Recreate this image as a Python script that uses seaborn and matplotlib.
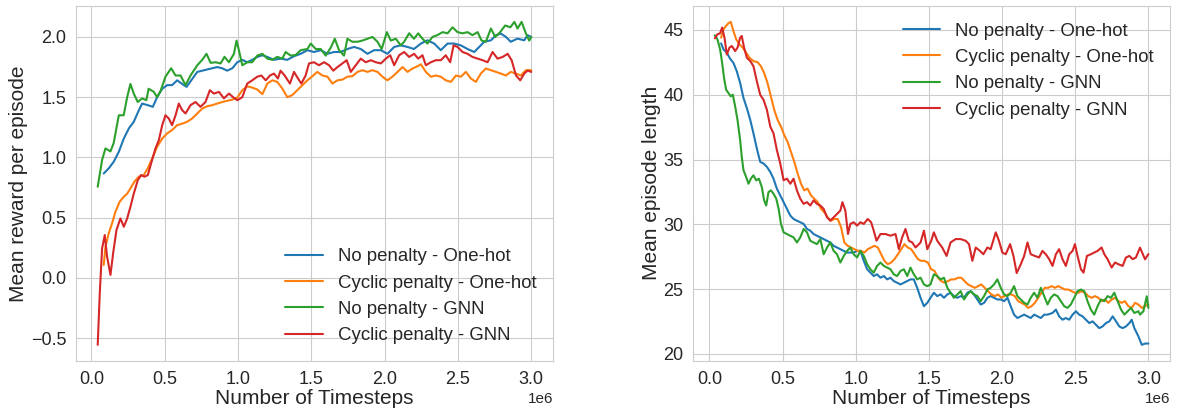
import pandas as pd
import matplotlib
matplotlib.use('Agg')
import matplotlib.pyplot as plt
import seaborn as sns

# values, timesteps in units of 1e6
LABELS = ['No penalty - One-hot', 'Cyclic penalty - One-hot',
          'No penalty - GNN', 'Cyclic penalty - GNN']

# ---- left panel: mean reward per episode ----
rew_np_oh_t = [0.084, 0.118, 0.152, 0.187, 0.221, 0.255, 0.289, 0.323, 0.346, 0.384, 0.419, 0.448,
               0.483, 0.517, 0.55, 0.585, 0.619, 0.649, 0.687, 0.722, 0.756, 0.79, 0.824, 0.858,
               0.892, 0.926, 0.961, 0.995, 1.029, 1.063, 1.097, 1.131, 1.166, 1.2, 1.245, 1.29,
               1.336, 1.382, 1.427, 1.473, 1.518, 1.564, 1.61, 1.655, 1.7, 1.746, 1.792, 1.837,
               1.883, 1.928, 1.974, 2.019, 2.065, 2.11, 2.156, 2.2, 2.247, 2.292, 2.338, 2.383,
               2.429, 2.474, 2.52, 2.565, 2.611, 2.645, 2.679, 2.725, 2.759, 2.793, 2.827, 2.86,
               2.906, 2.952, 2.975, 3.0]
rew_np_oh = [0.867, 0.909, 0.964, 1.047, 1.157, 1.24, 1.296, 1.39, 1.447, 1.434, 1.42, 1.5,
             1.57, 1.6, 1.6, 1.64, 1.61, 1.586, 1.65, 1.71, 1.72, 1.73, 1.74, 1.75,
             1.74, 1.72, 1.74, 1.79, 1.81, 1.79, 1.81, 1.834, 1.848, 1.834, 1.81, 1.82,
             1.81, 1.84, 1.86, 1.89, 1.875, 1.89, 1.86, 1.875, 1.875, 1.9, 1.917, 1.9,
             1.86, 1.89, 1.89, 1.86, 1.917, 1.93, 1.917, 1.9, 1.945, 1.972, 1.945, 1.89,
             1.945, 1.945, 1.93, 1.9, 1.875, 1.917, 1.96, 1.972, 2.014, 2.028, 2.0, 1.96,
             1.986, 1.972, 2.014, 2.0]

rew_cp_oh_t = [0.084, 0.096, 0.118, 0.141, 0.164, 0.193, 0.221, 0.244, 0.266, 0.294, 0.323, 0.357,
               0.385, 0.414, 0.448, 0.483, 0.517, 0.55, 0.585, 0.619, 0.653, 0.687, 0.722, 0.756,
               0.79, 0.824, 0.858, 0.892, 0.926, 0.961, 0.995, 1.029, 1.063, 1.097, 1.131, 1.166,
               1.2, 1.234, 1.268, 1.302, 1.336, 1.37, 1.404, 1.439, 1.473, 1.507, 1.541, 1.575,
               1.61, 1.644, 1.678, 1.712, 1.746, 1.78, 1.815, 1.849, 1.883, 1.917, 1.951, 1.985,
               2.019, 2.053, 2.088, 2.122, 2.156, 2.19, 2.224, 2.247, 2.281, 2.315, 2.349, 2.383,
               2.417, 2.452, 2.486, 2.52, 2.554, 2.588, 2.622, 2.656, 2.69, 2.725, 2.759, 2.793,
               2.827, 2.86, 2.895, 2.929, 2.963, 3.0]
rew_cp_oh = [0.108, 0.26, 0.37, 0.453, 0.55, 0.633, 0.674, 0.7, 0.743, 0.8, 0.84, 0.854,
             0.91, 0.99, 1.088, 1.157, 1.2, 1.227, 1.268, 1.28, 1.296, 1.323, 1.365, 1.406,
             1.425, 1.434, 1.447, 1.46, 1.47, 1.48, 1.497, 1.558, 1.59, 1.58, 1.564, 1.525,
             1.613, 1.64, 1.627, 1.572, 1.5, 1.517, 1.558, 1.6, 1.64, 1.674, 1.71, 1.68,
             1.67, 1.613, 1.64, 1.646, 1.67, 1.674, 1.71, 1.724, 1.71, 1.724, 1.71, 1.67,
             1.64, 1.67, 1.71, 1.75, 1.71, 1.738, 1.757, 1.773, 1.71, 1.67, 1.68, 1.67,
             1.64, 1.627, 1.68, 1.67, 1.71, 1.655, 1.627, 1.696, 1.738, 1.724, 1.71, 1.696,
             1.68, 1.71, 1.696, 1.68, 1.724, 1.724]

rew_np_gnn_t = [0.043, 0.073, 0.096, 0.13, 0.152, 0.187, 0.22, 0.244, 0.266, 0.289, 0.316, 0.346,
                0.375, 0.39, 0.425, 0.448, 0.471, 0.505, 0.544, 0.574, 0.608, 0.642, 0.676, 0.722,
                0.756, 0.785, 0.813, 0.847, 0.881, 0.908, 0.938, 0.972, 0.99, 1.006, 1.029, 1.063,
                1.097, 1.131, 1.166, 1.2, 1.234, 1.268, 1.302, 1.325, 1.359, 1.393, 1.427, 1.473,
                1.496, 1.53, 1.564, 1.598, 1.632, 1.66, 1.689, 1.723, 1.746, 1.78, 1.815, 1.848,
                1.883, 1.917, 1.951, 1.98, 2.015, 2.042, 2.076, 2.11, 2.133, 2.167, 2.2, 2.229,
                2.258, 2.292, 2.326, 2.36, 2.395, 2.429, 2.463, 2.497, 2.531, 2.565, 2.599, 2.634,
                2.661, 2.69, 2.725, 2.754, 2.788, 2.822, 2.857, 2.885, 2.906, 2.934, 2.963, 2.986,
                3.0]
rew_np_gnn = [0.757, 0.98, 1.075, 1.05, 1.12, 1.35, 1.35, 1.5, 1.61, 1.53, 1.46, 1.49,
              1.475, 1.57, 1.545, 1.5, 1.55, 1.67, 1.74, 1.68, 1.68, 1.6, 1.68, 1.765,
              1.81, 1.86, 1.785, 1.79, 1.78, 1.835, 1.79, 1.86, 1.97, 1.89, 1.765, 1.79,
              1.79, 1.845, 1.86, 1.82, 1.81, 1.835, 1.82, 1.875, 1.845, 1.85, 1.89, 1.9,
              1.945, 1.9, 1.9, 1.845, 1.91, 1.985, 1.89, 1.845, 1.985, 1.96, 1.96, 1.97,
              1.985, 2.0, 1.96, 1.9, 2.04, 1.97, 1.985, 1.93, 1.96, 2.03, 1.985, 2.03,
              1.985, 1.945, 2.0, 2.015, 2.04, 2.03, 2.08, 2.04, 2.03, 2.04, 2.015, 2.04,
              1.97, 1.96, 2.07, 2.0, 2.04, 2.095, 2.08, 2.125, 2.07, 2.125, 2.03, 1.97,
              2.0]

rew_cp_gnn_t = [0.043, 0.057, 0.073, 0.091, 0.107, 0.13, 0.148, 0.171, 0.198, 0.221, 0.244, 0.266,
                0.289, 0.316, 0.339, 0.362, 0.385, 0.407, 0.437, 0.46, 0.483, 0.505, 0.528, 0.55,
                0.574, 0.596, 0.619, 0.642, 0.676, 0.71, 0.744, 0.778, 0.808, 0.835, 0.87, 0.904,
                0.938, 0.967, 0.995, 1.029, 1.063, 1.097, 1.131, 1.159, 1.189, 1.218, 1.245, 1.272,
                1.29, 1.318, 1.354, 1.382, 1.409, 1.432, 1.461, 1.484, 1.518, 1.552, 1.587, 1.621,
                1.65, 1.678, 1.712, 1.741, 1.769, 1.803, 1.837, 1.871, 1.906, 1.94, 1.974, 2.008,
                2.038, 2.065, 2.099, 2.133, 2.167, 2.201, 2.229, 2.258, 2.281, 2.315, 2.349, 2.383,
                2.417, 2.447, 2.47, 2.497, 2.531, 2.565, 2.599, 2.634, 2.668, 2.702, 2.736, 2.77,
                2.805, 2.839, 2.866, 2.896, 2.925, 2.952, 2.975, 3.0]
rew_cp_gnn = [-0.555, -0.127, 0.246, 0.356, 0.177, 0.025, 0.204, 0.398, 0.494, 0.425, 0.494, 0.59,
              0.7, 0.81, 0.854, 0.84, 0.854, 0.95, 1.075, 1.144, 1.268, 1.35, 1.323, 1.268,
              1.35, 1.447, 1.392, 1.365, 1.434, 1.46, 1.42, 1.46, 1.558, 1.53, 1.544, 1.49,
              1.53, 1.5, 1.475, 1.5, 1.613, 1.64, 1.67, 1.68, 1.64, 1.68, 1.696, 1.655,
              1.72, 1.68, 1.613, 1.71, 1.655, 1.613, 1.68, 1.78, 1.79, 1.765, 1.79, 1.765,
              1.72, 1.75, 1.78, 1.807, 1.71, 1.765, 1.82, 1.79, 1.807, 1.79, 1.78, 1.82,
              1.848, 1.765, 1.848, 1.875, 1.834, 1.86, 1.82, 1.848, 1.765, 1.79, 1.807, 1.807,
              1.848, 1.79, 1.93, 1.917, 1.875, 1.86, 1.834, 1.82, 1.807, 1.79, 1.875, 1.82,
              1.834, 1.86, 1.807, 1.68, 1.64, 1.696, 1.72, 1.71]

# ---- right panel: mean episode length ----
len_np_oh_t = [0.08, 0.096, 0.119, 0.142, 0.164, 0.187, 0.21, 0.233, 0.256, 0.279, 0.301, 0.324,
               0.347, 0.37, 0.393, 0.416, 0.438, 0.461, 0.484, 0.507, 0.53, 0.553, 0.575, 0.598,
               0.621, 0.644, 0.667, 0.689, 0.712, 0.735, 0.758, 0.781, 0.804, 0.826, 0.849, 0.872,
               0.895, 0.918, 0.941, 0.963, 0.986, 1.009, 1.032, 1.055, 1.078, 1.1, 1.123, 1.146,
               1.169, 1.192, 1.215, 1.237, 1.26, 1.283, 1.306, 1.329, 1.352, 1.374, 1.397, 1.42,
               1.443, 1.466, 1.489, 1.511, 1.534, 1.557, 1.58, 1.603, 1.626, 1.648, 1.671, 1.694,
               1.717, 1.74, 1.763, 1.785, 1.808, 1.831, 1.854, 1.877, 1.9, 1.922, 1.945, 1.968,
               1.991, 2.014, 2.037, 2.059, 2.082, 2.105, 2.128, 2.151, 2.174, 2.196, 2.219, 2.242,
               2.265, 2.288, 2.311, 2.345, 2.368, 2.39, 2.413, 2.436, 2.459, 2.482, 2.505, 2.527,
               2.55, 2.573, 2.596, 2.619, 2.642, 2.664, 2.687, 2.71, 2.733, 2.756, 2.779, 2.801,
               2.824, 2.847, 2.87, 2.886, 2.904, 2.932, 2.955, 2.977, 3.0]
len_np_oh = [43.96, 43.5, 43.24, 42.77, 42.46, 41.81, 40.91, 39.74, 38.96, 38.06, 37.02, 35.85,
             34.82, 34.69, 34.43, 34.04, 33.52, 32.75, 32.23, 31.71, 31.19, 30.67, 30.41, 30.28,
             30.16, 30.03, 29.64, 29.51, 29.25, 29.12, 28.99, 28.86, 28.73, 28.6, 28.34, 28.21,
             28.08, 27.95, 27.82, 27.82, 27.82, 27.95, 27.95, 27.18, 26.53, 26.27, 26.01, 26.14,
             25.88, 26.01, 25.75, 25.88, 25.62, 25.49, 25.36, 25.49, 25.62, 25.75, 25.75, 25.1,
             24.33, 23.68, 23.94, 24.33, 24.72, 24.46, 24.59, 24.33, 24.59, 24.72, 24.46, 24.33,
             24.46, 24.33, 24.72, 24.84, 24.59, 24.2, 23.81, 23.94, 24.33, 24.46, 24.33, 24.2,
             24.2, 24.07, 24.33, 23.68, 23.03, 22.77, 22.9, 23.03, 22.9, 22.77, 23.03, 22.9,
             22.77, 23.03, 23.03, 23.16, 23.42, 22.9, 22.64, 22.77, 22.64, 23.03, 23.29, 23.03,
             22.9, 22.64, 22.38, 22.51, 22.25, 21.99, 22.12, 22.38, 22.51, 22.9, 22.51, 22.12,
             21.99, 22.12, 22.38, 22.64, 21.99, 21.35, 20.7, 20.8, 20.8]

len_cp_oh_t = [0.08, 0.096, 0.114, 0.13, 0.146, 0.164, 0.183, 0.205, 0.228, 0.251, 0.274, 0.301,
               0.329, 0.352, 0.374, 0.397, 0.42, 0.443, 0.466, 0.489, 0.511, 0.534, 0.557, 0.58,
               0.603, 0.626, 0.648, 0.671, 0.694, 0.717, 0.74, 0.763, 0.785, 0.808, 0.831, 0.854,
               0.877, 0.9, 0.922, 0.945, 0.968, 0.991, 1.014, 1.037, 1.059, 1.082, 1.105, 1.128,
               1.151, 1.174, 1.196, 1.219, 1.242, 1.265, 1.288, 1.311, 1.333, 1.356, 1.379, 1.402,
               1.425, 1.447, 1.47, 1.493, 1.516, 1.539, 1.562, 1.584, 1.607, 1.63, 1.653, 1.676,
               1.699, 1.721, 1.744, 1.767, 1.79, 1.813, 1.836, 1.858, 1.881, 1.904, 1.927, 1.95,
               1.973, 1.995, 2.018, 2.041, 2.064, 2.087, 2.11, 2.132, 2.155, 2.178, 2.201, 2.224,
               2.247, 2.269, 2.292, 2.315, 2.338, 2.361, 2.384, 2.406, 2.429, 2.452, 2.475, 2.498,
               2.521, 2.543, 2.566, 2.589, 2.612, 2.635, 2.658, 2.68, 2.703, 2.726, 2.749, 2.772,
               2.795, 2.817, 2.84, 2.863, 2.886, 2.909, 2.932, 2.955, 2.977, 3.0]
len_cp_oh = [44.4, 45.05, 45.31, 45.52, 45.62, 44.92, 44.27, 43.89, 43.63, 43.24, 42.85, 42.59,
             42.51, 42.2, 41.68, 40.91, 39.87, 38.83, 38.06, 37.54, 36.89, 36.37, 35.6, 34.82,
             33.91, 33.13, 32.62, 32.75, 32.23, 31.97, 31.71, 31.19, 30.93, 30.54, 30.28, 30.41,
             30.41, 29.77, 28.6, 28.34, 28.21, 28.08, 27.95, 27.95, 27.82, 28.08, 28.21, 28.34,
             28.21, 27.69, 27.18, 26.92, 27.05, 27.31, 27.69, 28.08, 28.47, 28.21, 28.08, 27.69,
             27.31, 27.18, 27.18, 27.05, 26.53, 26.4, 25.88, 25.62, 25.49, 25.62, 25.75, 25.75,
             25.88, 25.88, 25.62, 25.36, 25.23, 25.1, 25.23, 25.36, 25.1, 24.84, 24.59, 24.46,
             24.59, 24.33, 24.46, 24.59, 24.59, 24.46, 24.07, 23.94, 23.81, 23.55, 23.68, 23.94,
             24.33, 24.72, 25.1, 25.1, 25.23, 25.1, 25.23, 25.1, 24.97, 24.97, 24.84, 24.72,
             24.72, 24.84, 24.72, 24.46, 24.33, 24.46, 24.33, 24.07, 24.2, 23.94, 24.2, 24.33,
             24.07, 23.94, 24.07, 23.68, 23.55, 23.94, 23.81, 23.55, 23.7, 23.8]

len_np_gnn_t = [0.037, 0.055, 0.073, 0.087, 0.1, 0.114, 0.13, 0.146, 0.16, 0.176, 0.192, 0.21,
                0.221, 0.233, 0.251, 0.267, 0.283, 0.301, 0.32, 0.338, 0.358, 0.374, 0.388, 0.404,
                0.42, 0.438, 0.457, 0.473, 0.489, 0.507, 0.53, 0.553, 0.575, 0.598, 0.621, 0.644,
                0.667, 0.689, 0.712, 0.735, 0.758, 0.781, 0.804, 0.826, 0.849, 0.872, 0.895, 0.918,
                0.941, 0.963, 0.986, 1.009, 1.032, 1.055, 1.078, 1.1, 1.123, 1.146, 1.169, 1.192,
                1.215, 1.237, 1.26, 1.283, 1.306, 1.329, 1.352, 1.374, 1.397, 1.42, 1.443, 1.466,
                1.489, 1.511, 1.534, 1.557, 1.58, 1.603, 1.626, 1.648, 1.671, 1.694, 1.717, 1.74,
                1.763, 1.785, 1.808, 1.831, 1.854, 1.877, 1.9, 1.922, 1.945, 1.968, 1.991, 2.014,
                2.037, 2.059, 2.082, 2.105, 2.128, 2.151, 2.174, 2.196, 2.219, 2.242, 2.265, 2.288,
                2.311, 2.333, 2.356, 2.379, 2.402, 2.425, 2.447, 2.47, 2.493, 2.516, 2.539, 2.562,
                2.584, 2.607, 2.63, 2.653, 2.676, 2.699, 2.721, 2.744, 2.767, 2.79, 2.813, 2.836,
                2.858, 2.881, 2.904, 2.932, 2.943, 2.966, 2.989, 3.0]
len_np_gnn = [44.59, 44.27, 43.5, 42.46, 41.3, 40.39, 40.13, 39.87, 40.0, 39.09, 38.06, 36.5,
              35.21, 34.17, 33.65, 33.13, 33.52, 33.78, 33.39, 33.52, 32.88, 31.84, 31.45, 32.49,
              32.62, 32.36, 31.97, 31.19, 30.03, 29.38, 29.25, 29.12, 28.99, 28.6, 28.99, 29.64,
              29.38, 28.73, 28.6, 28.47, 28.86, 27.69, 28.21, 28.6, 27.95, 27.69, 27.05, 27.56,
              27.95, 28.21, 27.69, 27.44, 27.95, 27.56, 26.92, 26.53, 26.27, 26.79, 27.05, 26.79,
              26.66, 26.53, 26.14, 26.01, 26.4, 26.53, 26.01, 26.66, 26.14, 25.75, 25.88, 25.36,
              25.23, 25.36, 26.14, 26.01, 25.75, 25.88, 25.1, 24.72, 24.33, 24.59, 24.84, 24.2,
              24.59, 24.84, 24.59, 24.46, 24.07, 24.46, 24.97, 25.1, 25.36, 25.75, 25.1, 24.59,
              24.46, 24.72, 25.23, 24.46, 24.2, 23.94, 23.81, 24.33, 24.72, 24.33, 25.1, 24.46,
              23.81, 24.33, 24.59, 24.46, 24.07, 23.68, 23.55, 23.81, 24.33, 24.84, 24.97, 24.84,
              24.07, 23.42, 23.03, 23.68, 24.2, 24.07, 24.46, 24.33, 24.72, 24.07, 23.42, 23.03,
              23.29, 23.55, 23.16, 23.29, 23.03, 23.29, 24.45, 23.55]

len_cp_gnn_t = [0.037, 0.055, 0.073, 0.087, 0.103, 0.119, 0.137, 0.153, 0.176, 0.192, 0.21, 0.221,
                0.237, 0.256, 0.279, 0.301, 0.324, 0.347, 0.37, 0.393, 0.416, 0.438, 0.461, 0.484,
                0.507, 0.53, 0.553, 0.575, 0.598, 0.621, 0.644, 0.667, 0.689, 0.712, 0.735, 0.758,
                0.781, 0.804, 0.826, 0.849, 0.872, 0.895, 0.909, 0.929, 0.947, 0.963, 0.986, 1.009,
                1.032, 1.055, 1.082, 1.105, 1.123, 1.142, 1.169, 1.203, 1.237, 1.272, 1.295, 1.317,
                1.34, 1.363, 1.386, 1.409, 1.443, 1.466, 1.489, 1.516, 1.534, 1.557, 1.591, 1.621,
                1.648, 1.683, 1.717, 1.751, 1.774, 1.797, 1.82, 1.849, 1.872, 1.9, 1.922, 1.957,
                1.979, 2.002, 2.025, 2.055, 2.078, 2.1, 2.128, 2.151, 2.174, 2.196, 2.224, 2.253,
                2.276, 2.299, 2.322, 2.345, 2.368, 2.39, 2.413, 2.436, 2.459, 2.482, 2.498, 2.516,
                2.539, 2.557, 2.58, 2.607, 2.63, 2.653, 2.68, 2.699, 2.721, 2.749, 2.772, 2.795,
                2.824, 2.847, 2.87, 2.893, 2.915, 2.943, 2.977, 3.0]
len_cp_gnn = [44.35, 44.66, 44.74, 45.18, 44.4, 43.1, 43.63, 43.76, 43.37, 43.63, 44.4, 44.53,
              43.63, 42.85, 42.6, 42.2, 41.04, 40.0, 39.6, 38.83, 37.54, 37.02, 35.73, 34.7,
              33.4, 33.52, 33.13, 33.52, 32.62, 31.97, 31.58, 31.71, 31.45, 31.84, 31.58, 31.45,
              31.19, 30.54, 30.28, 30.54, 30.8, 31.06, 31.71, 31.06, 29.25, 30.03, 30.16, 29.9,
              30.16, 30.03, 30.41, 30.16, 29.51, 28.73, 29.25, 29.25, 29.12, 29.25, 28.08, 28.99,
              29.64, 28.73, 28.6, 28.21, 28.6, 29.51, 28.08, 28.73, 29.38, 28.73, 28.21, 27.56,
              28.6, 28.86, 28.86, 28.73, 28.47, 27.18, 28.21, 27.95, 27.69, 28.21, 28.08, 29.38,
              28.73, 27.82, 27.69, 28.47, 27.56, 26.24, 26.92, 27.56, 28.6, 27.69, 27.56, 27.44,
              27.95, 27.69, 27.31, 26.79, 27.69, 28.08, 27.31, 26.79, 27.69, 27.95, 28.47, 27.56,
              26.53, 26.27, 27.56, 27.69, 27.82, 27.95, 28.21, 27.69, 27.31, 26.66, 27.05, 26.92,
              26.79, 27.44, 27.56, 27.31, 27.44, 28.2, 27.3, 27.7]


def to_frame(series, ylabel):
    rows = []
    for name, (t, v) in zip(LABELS, series):
        rows.append(pd.DataFrame({'Number of Timesteps': [x * 1e6 for x in t],
                                  ylabel: v, 'run': name}))
    return pd.concat(rows, ignore_index=True)


reward_df = to_frame([(rew_np_oh_t, rew_np_oh), (rew_cp_oh_t, rew_cp_oh),
                      (rew_np_gnn_t, rew_np_gnn), (rew_cp_gnn_t, rew_cp_gnn)],
                     'Mean reward per episode')
length_df = to_frame([(len_np_oh_t, len_np_oh), (len_cp_oh_t, len_cp_oh),
                      (len_np_gnn_t, len_np_gnn), (len_cp_gnn_t, len_cp_gnn)],
                     'Mean episode length')

sns.set_style('whitegrid')
plt.rcParams['font.family'] = ['Liberation Sans', 'DejaVu Sans']
palette = sns.color_palette('tab10', 4)

fig, axes = plt.subplots(1, 2, figsize=(11.77, 4.09), dpi=100)
fig.subplots_adjust(left=0.0646, right=0.9941, bottom=0.1174, top=0.986, wspace=0.294)

for ax, df, ycol, loc in [(axes[0], reward_df, 'Mean reward per episode', 'lower right'),
                          (axes[1], length_df, 'Mean episode length', 'upper right')]:
    sns.lineplot(data=df, x='Number of Timesteps', y=ycol, hue='run', hue_order=LABELS,
                 palette=palette, estimator=None, sort=False, linewidth=1.5, ax=ax)
    ax.set_xlabel('Number of Timesteps', fontsize=15, labelpad=1)
    ax.set_ylabel(ycol, fontsize=15, labelpad=2)
    ax.tick_params(labelsize=13)
    ax.xaxis.get_offset_text().set_fontsize(11)
    ax.legend(loc=loc, fontsize=13.4, frameon=False, title=None)

axes[0].set_yticks([-0.5, 0.0, 0.5, 1.0, 1.5, 2.0])
axes[1].set_yticks([20, 25, 30, 35, 40, 45])

plt.savefig('out.png', dpi=100)
